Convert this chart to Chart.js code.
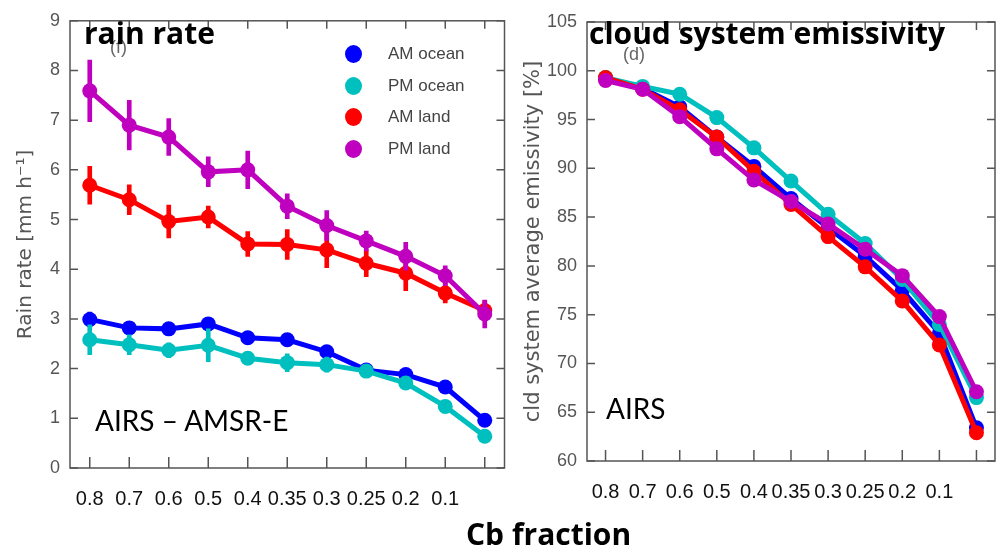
<!DOCTYPE html>
<html>
<head>
<meta charset="utf-8">
<script src="https://cdn.jsdelivr.net/npm/chart.js@4.4.1/dist/chart.umd.min.js"></script>
<style>
  body { margin: 0; background: #fff; }
  #wrap { position: relative; width: 1004px; height: 550px; overflow: hidden; }
  #wrap canvas { position: absolute; top: 0; }
  .txt { position: absolute; white-space: nowrap; line-height: 1; }
  .title { font: bold 30px "Open Sans", sans-serif; color: #000; }
  .note { font: 28px Lato, sans-serif; color: #000; }
  .panel { font: 18px "Liberation Sans", sans-serif; color: #666; }
  #legend { position: absolute; left: 345px; top: 44px; font: 17px "Liberation Sans", sans-serif; color: #444; white-space: nowrap; }
  #legend div { position: relative; height: 31.5px; width: 140px; }
  #legend span.dot { position: absolute; left: 0; top: 1px; width: 17px; height: 18px; border-radius: 50%; }
  #legend span.lbl { position: absolute; left: 43px; top: 0; line-height: 20px; }
</style>
</head>
<body>
<div id="wrap">
  <canvas id="rain" width="512" height="550" style="left:0"></canvas>
  <canvas id="emis" width="499" height="550" style="left:505px"></canvas>
  <div class="txt panel" style="left:110px;top:37px">(f)</div>
  <div class="txt panel" style="left:623px;top:44px">(d)</div>
  <div class="txt title" style="left:84px;top:12px">rain rate</div>
  <div class="txt title" style="left:589px;top:12px">cloud system emissivity</div>
  <div class="txt note" style="left:95px;top:403px">AIRS – AMSR-E</div>
  <div class="txt note" style="left:606px;top:391px">AIRS</div>
  <div class="txt title" style="left:466px;top:513px">Cb fraction</div>
  <div id="legend"></div>
</div>
<script>
// Cb fraction bins (last bin has no label)
const cbFraction = ['0.8', '0.7', '0.6', '0.5', '0.4', '0.35', '0.3', '0.25', '0.2', '0.1', ''];

const seriesNames = ['AM ocean', 'PM ocean', 'AM land', 'PM land'];
const seriesColors = ['#0000ff', '#00bfbf', '#ff0000', '#bf00bf'];

// rain rate [mm/h], AIRS - AMSR-E
const rainAmOcean = [2.99, 2.82, 2.80, 2.90, 2.62, 2.58, 2.34, 1.97, 1.88, 1.63, 0.96];
const rainPmOcean = [2.58, 2.48, 2.37, 2.47, 2.21, 2.12, 2.08, 1.95, 1.71, 1.24, 0.64];
const rainAmLand  = [5.69, 5.40, 4.96, 5.05, 4.51, 4.50, 4.39, 4.12, 3.92, 3.52, 3.17];
const rainPmLand  = [7.59, 6.90, 6.66, 5.96, 6.00, 5.27, 4.88, 4.57, 4.26, 3.87, 3.10];

// half-length of the error bars
const rainAmOceanErr = [0.15, 0.10, 0.12, 0.12, 0.12, 0.10, 0.12, 0.08, 0.10, 0.12, 0.10];
const rainPmOceanErr = [0.30, 0.20, 0.15, 0.33, 0.12, 0.18, 0.15, 0.10, 0.12, 0.12, 0.10];
const rainAmLandErr  = [0.38, 0.30, 0.33, 0.22, 0.25, 0.30, 0.36, 0.27, 0.35, 0.20, 0.20];
const rainPmLandErr  = [0.62, 0.50, 0.37, 0.30, 0.38, 0.25, 0.30, 0.20, 0.28, 0.20, 0.28];

// cloud system average emissivity [%], AIRS
const emisAmOcean = [99.2, 98.2, 96.3, 93.2, 90.2, 86.9, 83.9, 81.0, 77.5, 73.1, 63.4];
const emisPmOcean = [99.3, 98.4, 97.6, 95.2, 92.1, 88.7, 85.3, 82.3, 78.6, 74.0, 66.5];
const emisAmLand  = [99.3, 98.1, 96.0, 93.2, 89.7, 86.3, 83.0, 79.9, 76.4, 71.9, 62.9];
const emisPmLand  = [99.0, 98.1, 95.3, 92.0, 88.8, 86.6, 84.3, 81.7, 79.0, 74.8, 67.1];

Chart.defaults.font.family = '"Liberation Sans", Arial, sans-serif';
Chart.defaults.color = '#555';

// legend (left panel)
const legend = document.getElementById('legend');
seriesNames.forEach((name, i) => {
  const row = document.createElement('div');
  row.innerHTML = '<span class="dot" style="background:' + seriesColors[i] + '"></span><span class="lbl">' + name + '</span>';
  legend.appendChild(row);
});

// box around the plot with inward ticks on all four sides
const framePlugin = {
  id: 'frame',
  beforeDatasetsDraw(chart) {
    const { ctx, chartArea: a, scales: { x, y } } = chart;
    ctx.save();
    ctx.strokeStyle = '#555';
    ctx.lineWidth = 1.5;
    ctx.strokeRect(a.left, a.top, a.right - a.left, a.bottom - a.top);
    ctx.beginPath();
    y.ticks.forEach(t => {
      const py = y.getPixelForValue(t.value);
      ctx.moveTo(a.left, py); ctx.lineTo(a.left + 8, py);
      ctx.moveTo(a.right, py); ctx.lineTo(a.right - 8, py);
    });
    x.ticks.forEach((t, i) => {
      const px = x.getPixelForTick(i);
      ctx.moveTo(px, a.bottom); ctx.lineTo(px, a.bottom - 11);
      ctx.moveTo(px, a.top); ctx.lineTo(px, a.top + 8);
    });
    ctx.stroke();
    ctx.restore();
  }
};

function lineSet(label, data, color, order) {
  return {
    type: 'line', label, data, order,
    borderColor: color, backgroundColor: color,
    pointBackgroundColor: color, pointBorderWidth: 0,
    borderWidth: 5, pointRadius: 7.5, tension: 0
  };
}

function errSet(data, err, color, order) {
  return {
    type: 'bar', data: data.map((v, i) => [v - err[i], v + err[i]]), order,
    backgroundColor: color, barThickness: 4, grouped: false
  };
}

function makeChart(id, datasets, yMin, yMax, yStep, yTitle, pad, yWidth, xHeight, titlePad, titleSize) {
  return new Chart(document.getElementById(id), {
    data: { labels: cbFraction, datasets },
    options: {
      responsive: false,
      animation: false,
      layout: { padding: pad },
      plugins: { legend: { display: false }, tooltip: { enabled: false } },
      scales: {
        x: {
          type: 'category', offset: true,
          grid: { display: false, drawTicks: false },
          border: { display: false },
          ticks: { color: '#111', font: { size: 20 }, padding: 19, autoSkip: false, maxRotation: 0 },
          afterFit: s => { s.height = xHeight; }
        },
        y: {
          min: yMin, max: yMax,
          grid: { display: false, drawTicks: false },
          border: { display: false },
          ticks: { stepSize: yStep, color: '#555', font: { size: 18 }, padding: 10 },
          title: { display: true, text: yTitle, color: '#555', font: { family: '"DejaVu Sans", sans-serif', size: titleSize }, padding: { top: titlePad } },
          afterFit: s => { s.width = yWidth; }
        }
      }
    },
    plugins: [framePlugin]
  });
}

// purple on top, blue at the bottom
makeChart('rain', [
  lineSet(seriesNames[3], rainPmLand, seriesColors[3], 0),
  errSet(rainPmLand, rainPmLandErr, seriesColors[3], 1),
  lineSet(seriesNames[2], rainAmLand, seriesColors[2], 2),
  errSet(rainAmLand, rainAmLandErr, seriesColors[2], 3),
  lineSet(seriesNames[1], rainPmOcean, seriesColors[1], 4),
  errSet(rainPmOcean, rainPmOceanErr, seriesColors[1], 5),
  lineSet(seriesNames[0], rainAmOcean, seriesColors[0], 6),
  errSet(rainAmOcean, rainAmOceanErr, seriesColors[0], 7)
], 0, 9, 1, 'Rain rate [mm h\u207B\u00B9]', { top: 15, left: 0, right: 5, bottom: 0 }, 70, 82, 14, 20);

makeChart('emis', [
  lineSet(seriesNames[3], emisPmLand, seriesColors[3], 0),
  lineSet(seriesNames[2], emisAmLand, seriesColors[2], 1),
  lineSet(seriesNames[1], emisPmOcean, seriesColors[1], 2),
  lineSet(seriesNames[0], emisAmOcean, seriesColors[0], 3)
], 60, 105, 5, 'cld system average emissivity [%]', { top: 22, left: 0, right: 9, bottom: 0 }, 82, 89, 16, 21);
</script>
</body>
</html>
